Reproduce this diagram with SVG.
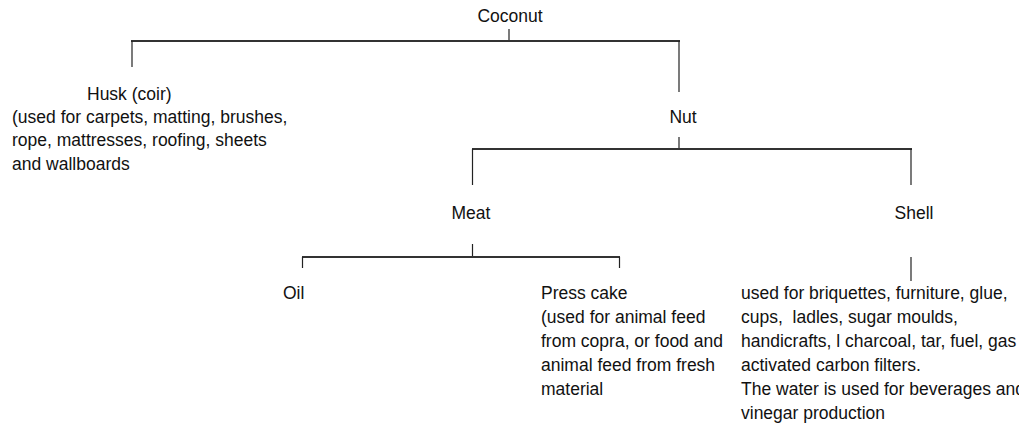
<svg xmlns="http://www.w3.org/2000/svg" width="1019" height="441" viewBox="0 0 1019 441">
<style>
text{font-family:"Liberation Sans",Arial,sans-serif;font-size:17.5px;fill:#111}
.c{text-anchor:middle}
.h{stroke:#333;stroke-width:2;fill:none}
.v{stroke:#222;stroke-width:1.2;fill:none}
</style>
<rect width="1019" height="441" fill="#fff"/>
<g id="connectors">
<line class="v" x1="509" y1="29" x2="509" y2="41"/>
<line class="h" x1="131" y1="41" x2="680" y2="41"/>
<line class="v" x1="132" y1="41" x2="132" y2="67"/>
<line class="v" x1="679" y1="41" x2="679" y2="92"/>
<line class="v" x1="679" y1="137" x2="679" y2="149"/>
<line class="h" x1="472" y1="149" x2="912" y2="149"/>
<line class="v" x1="472.5" y1="149" x2="472.5" y2="185"/>
<line class="v" x1="911" y1="149" x2="911" y2="185"/>
<line class="v" x1="472.5" y1="244" x2="472.5" y2="257"/>
<line class="h" x1="302" y1="257" x2="620" y2="257"/>
<line class="v" x1="302.5" y1="257" x2="302.5" y2="268"/>
<line class="v" x1="619.5" y1="257" x2="619.5" y2="268"/>
<line class="v" x1="911" y1="257" x2="911" y2="281"/>
</g>
<g id="coconut"><text class="c" x="510" y="22">Coconut</text></g>
<g id="husk">
<text x="87" y="100">Husk (coir)</text>
<text x="12" y="123">(used for carpets, matting, brushes,</text>
<text x="12" y="146">rope, mattresses, roofing, sheets</text>
<text x="12" y="170">and wallboards</text>
</g>
<g id="nut"><text class="c" x="683" y="123">Nut</text></g>
<g id="meat"><text class="c" x="471" y="219">Meat</text></g>
<g id="shell"><text class="c" x="914" y="219">Shell</text></g>
<g id="oil"><text x="283" y="299">Oil</text></g>
<g id="presscake">
<text x="541" y="299">Press cake</text>
<text x="541" y="323">(used for animal feed</text>
<text x="541" y="347">from copra, or food and</text>
<text x="541" y="371">animal feed from fresh</text>
<text x="541" y="395">material</text>
</g>
<g id="shelluses">
<text x="741" y="299">used for briquettes, furniture, glue,</text>
<text x="741" y="323">cups, &#160;ladles, sugar moulds,</text>
<text x="741" y="347">handicrafts, l charcoal, tar, fuel, gas</text>
<text x="741" y="371">activated carbon filters.</text>
<text x="741" y="395">The water is used for beverages and</text>
<text x="741" y="419">vinegar production</text>
</g>
</svg>
